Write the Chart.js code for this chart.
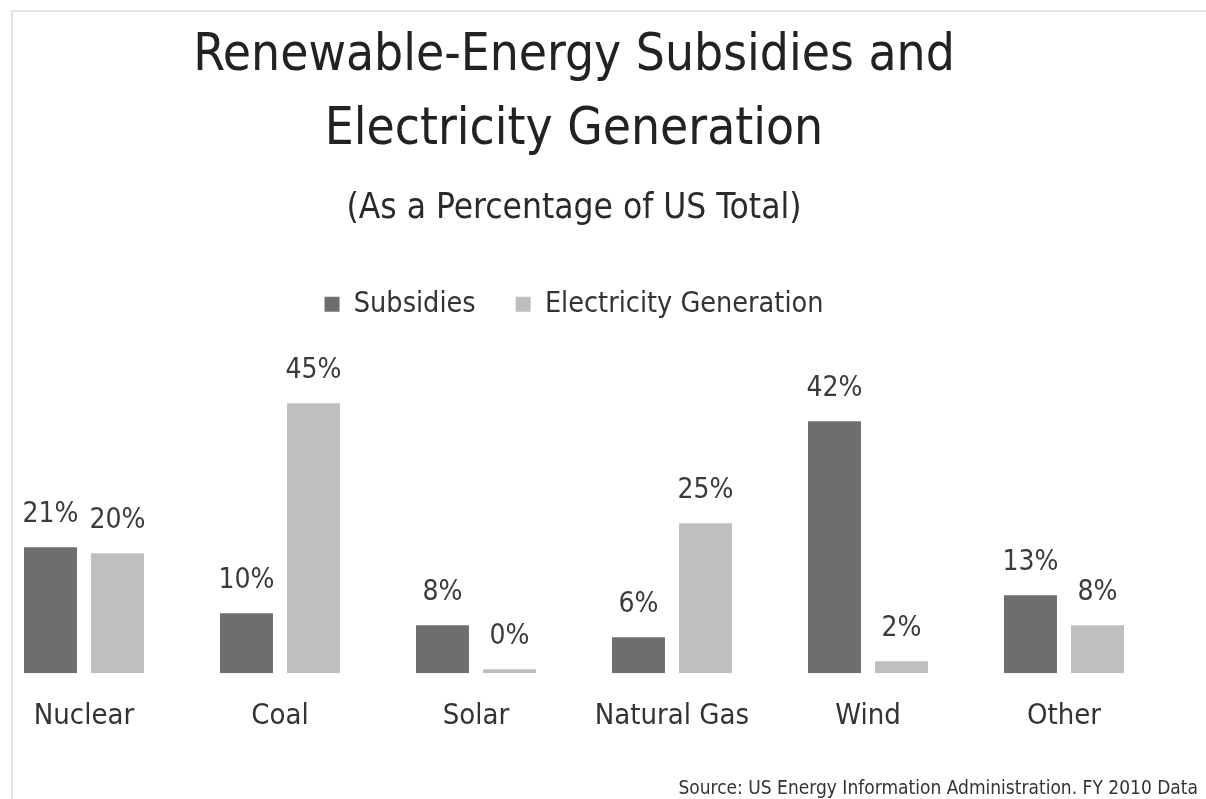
<!DOCTYPE html>
<html>
<head>
<meta charset="utf-8">
<script src="https://cdn.jsdelivr.net/npm/chart.js@4.4.1/dist/chart.umd.min.js"></script>
<style>
  html, body { margin:0; padding:0; background:#fff; width:1206px; height:799px; overflow:hidden; }
  #frame { position:absolute; left:11px; top:10px; right:0; bottom:0; border-top:2px solid #e2e2e2; border-left:2px solid #e2e2e2; }
  #wrap { position:absolute; left:-14px; top:0; width:1220px; height:799px; }
  #source { position:absolute; right:8px; top:776px; font-family:"Liberation Sans Narrow","DejaVu Sans Condensed",sans-serif; font-size:19px; color:#333; white-space:nowrap; }
</style>
</head>
<body>
<div id="frame"></div>
<div id="wrap"><canvas id="c"></canvas></div>
<div id="source">Source: US Energy Information Administration. FY 2010 Data</div>
<script>
const categories = ['Nuclear', 'Coal', 'Solar', 'Natural Gas', 'Wind', 'Other'];
const subsidies = [21, 10, 8, 6, 42, 13];
const generation = [20, 45, 0, 25, 2, 8];
const seriesNames = ['Subsidies', 'Electricity Generation'];
const titleLines = ['Renewable-Energy Subsidies and', 'Electricity Generation'];
const subtitleText = '(As a Percentage of US Total)';

const FONT = '"Liberation Sans Narrow", "DejaVu Sans Condensed", sans-serif';

const valueLabels = {
  id: 'valueLabels',
  afterDatasetsDraw(chart) {
    const ctx = chart.ctx;
    chart.data.datasets.forEach((ds, i) => {
      const meta = chart.getDatasetMeta(i);
      meta.data.forEach((bar, j) => {
        ctx.save();
        ctx.font = '28px ' + FONT;
        ctx.fillStyle = '#3a3a3a';
        ctx.textAlign = 'center';
        ctx.textBaseline = 'alphabetic';
        ctx.fillText(ds.data[j] + '%', bar.x, bar.y - 25);
        ctx.restore();
      });
    });
  }
};

new Chart(document.getElementById('c'), {
  type: 'bar',
  data: {
    labels: categories,
    datasets: [
      { label: seriesNames[0], data: subsidies, backgroundColor: '#6e6e6e', borderWidth: 0 },
      { label: seriesNames[1], data: generation, backgroundColor: '#bfbfbf', borderWidth: 0, minBarLength: 4 }
    ]
  },
  options: {
    responsive: true,
    maintainAspectRatio: false,
    animation: false,
    categoryPercentage: 0.684,
    barPercentage: 0.79,
    layout: { padding: { left: 0, right: 44, top: 14, bottom: 47 } },
    plugins: {
      title: {
        display: true,
        text: titleLines,
        color: '#222',
        font: { family: FONT, size: 51, weight: 'normal', lineHeight: 1.45 },
        padding: { top: 6, bottom: 8 }
      },
      subtitle: {
        display: true,
        text: subtitleText,
        color: '#2a2a2a',
        font: { family: FONT, size: 35, weight: 'normal', lineHeight: 1.2 },
        padding: { top: 12, bottom: 20 }
      },
      legend: {
        display: true,
        position: 'top',
        labels: {
          color: '#333',
          boxWidth: 15,
          boxHeight: 15,
          padding: 40,
          font: { family: FONT, size: 28.5 }
        }
      },
      tooltip: { enabled: false }
    },
    scales: {
      x: {
        grid: { display: false },
        border: { display: false },
        ticks: { color: '#333', padding: 18, font: { family: FONT, size: 29 } }
      },
      y: {
        display: false,
        min: 0,
        max: 57.5
      }
    }
  },
  plugins: [valueLabels]
});
</script>
</body>
</html>
